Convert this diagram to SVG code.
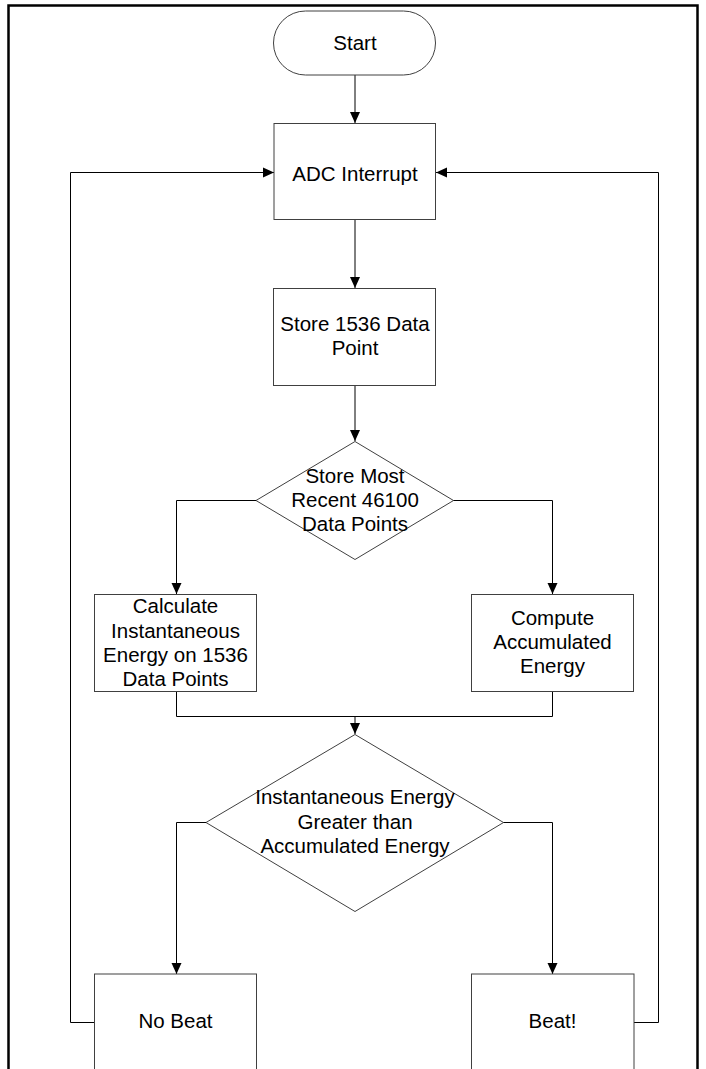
<svg xmlns="http://www.w3.org/2000/svg" width="706" height="1069" viewBox="0 0 706 1069">
  <style>
    .shape { fill: #ffffff; stroke: #404040; stroke-width: 1; }
    .link { fill: none; stroke: #000000; stroke-width: 1; }
    .label { font-family: "Liberation Sans", Arial, sans-serif; font-size: 20.5px; fill: #000000; text-anchor: middle; }
  </style>
  <defs>
    <marker id="arrow" markerUnits="userSpaceOnUse" markerWidth="12" markerHeight="12" viewBox="0 0 12 12" refX="11" refY="6" orient="auto">
      <path d="M0,1 L11,6 L0,11 Z" fill="#000000"/>
    </marker>
  </defs>

  <rect width="706" height="1069" fill="#ffffff"/>

  <!-- page frame (open at the bottom) -->
  <path d="M8.5,1075 V5.5 H697.5 V1075" fill="none" stroke="#000000" stroke-width="2.5"/>

  <!-- connectors -->
  <g id="connectors">
    <path class="link" d="M355,75 V123" marker-end="url(#arrow)"/>
    <path class="link" d="M355,220 V288" marker-end="url(#arrow)"/>
    <path class="link" d="M355,385 V441" marker-end="url(#arrow)"/>
    <path class="link" d="M256,500.5 H176.5 V594" marker-end="url(#arrow)"/>
    <path class="link" d="M453,500.5 H552.5 V594" marker-end="url(#arrow)"/>
    <path class="link" d="M176.5,692 V716.5 H552.5 V692"/>
    <path class="link" d="M355,716.5 V734" marker-end="url(#arrow)"/>
    <path class="link" d="M206,822.5 H176.5 V974" marker-end="url(#arrow)"/>
    <path class="link" d="M503,822.5 H552.5 V974" marker-end="url(#arrow)"/>
    <path class="link" d="M94.5,1022.5 H70.5 V172.5 H274" marker-end="url(#arrow)"/>
    <path class="link" d="M634,1022.5 H658.5 V172.5 H436" marker-end="url(#arrow)"/>
  </g>

  <g id="start">
    <rect class="shape" x="273.5" y="11" width="162" height="64" rx="32" ry="32"/>
    <text class="label" x="355" y="50">Start</text>
  </g>

  <g id="adc-interrupt">
    <rect class="shape" x="274" y="123.5" width="161.5" height="96"/>
    <text class="label" x="355" y="181">ADC Interrupt</text>
  </g>

  <g id="store-1536">
    <rect class="shape" x="273.5" y="288.5" width="162" height="97"/>
    <text class="label" x="355" y="331">Store 1536 Data</text>
    <text class="label" x="355" y="354.5">Point</text>
  </g>

  <g id="store-recent">
    <path class="shape" d="M355,441.5 L453.5,500.5 L355,559.5 L256,500.5 Z"/>
    <text class="label" x="355" y="482.5">Store Most</text>
    <text class="label" x="355" y="507">Recent 46100</text>
    <text class="label" x="355" y="531">Data Points</text>
  </g>

  <g id="instantaneous">
    <rect class="shape" x="94.5" y="594.5" width="162" height="97"/>
    <text class="label" x="175.5" y="613">Calculate</text>
    <text class="label" x="175.5" y="637.5">Instantaneous</text>
    <text class="label" x="175.5" y="661.5">Energy on 1536</text>
    <text class="label" x="175.5" y="685.5">Data Points</text>
  </g>

  <g id="accumulated">
    <rect class="shape" x="471.5" y="594.5" width="162" height="97"/>
    <text class="label" x="552.5" y="624.5">Compute</text>
    <text class="label" x="552.5" y="648.5">Accumulated</text>
    <text class="label" x="552.5" y="672.5">Energy</text>
  </g>

  <g id="compare">
    <path class="shape" d="M355,734.5 L503.5,822.5 L355,911.5 L206,822.5 Z"/>
    <text class="label" x="355" y="803.5">Instantaneous Energy</text>
    <text class="label" x="355" y="828.5">Greater than</text>
    <text class="label" x="355" y="853">Accumulated Energy</text>
  </g>

  <g id="no-beat">
    <rect class="shape" x="94.5" y="974" width="162" height="110"/>
    <text class="label" x="175.5" y="1028">No Beat</text>
  </g>

  <g id="beat">
    <rect class="shape" x="471.5" y="974" width="162.5" height="110"/>
    <text class="label" x="552.5" y="1028">Beat!</text>
  </g>
</svg>
